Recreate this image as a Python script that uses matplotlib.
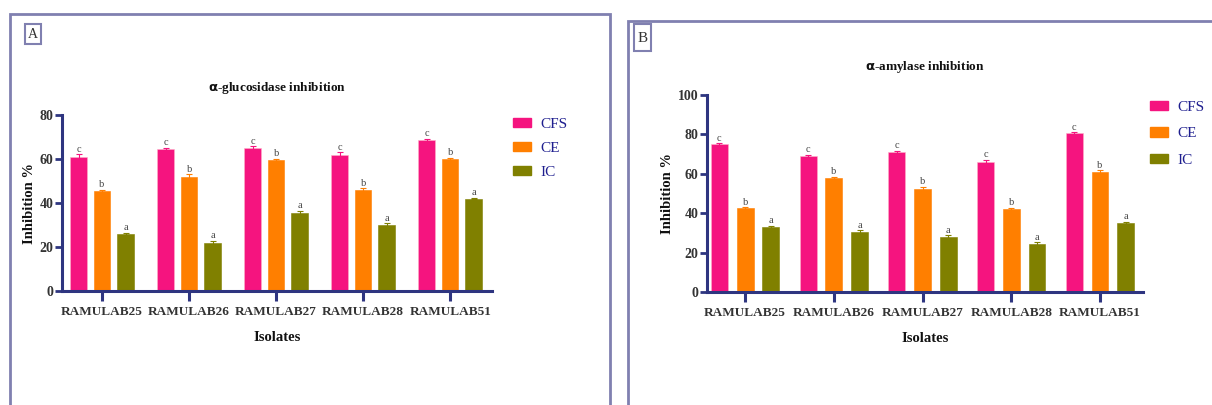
import matplotlib.pyplot as plt
from matplotlib.patches import Rectangle, Patch
import numpy as np

# Data
isolates = ['RAMULAB25', 'RAMULAB26', 'RAMULAB27', 'RAMULAB28', 'RAMULAB51']
series = ['CFS', 'CE', 'IC']

gluc_cfs = [61.0, 64.5, 65.0, 62.0, 68.5]
gluc_ce = [45.5, 52.0, 59.5, 46.0, 60.0]
gluc_ic = [26.0, 22.0, 35.5, 30.0, 42.0]
gluc_err_cfs = [1.2, 0.6, 0.8, 1.0, 0.6]
gluc_err_ce = [0.6, 1.0, 0.6, 0.6, 0.5]
gluc_err_ic = [0.5, 0.8, 0.8, 0.8, 0.4]

amyl_cfs = [75.0, 69.0, 71.0, 66.0, 80.5]
amyl_ce = [42.5, 58.0, 52.5, 42.0, 61.0]
amyl_ic = [33.0, 30.5, 28.0, 24.5, 35.0]
amyl_err_cfs = [0.5, 0.5, 0.8, 1.2, 0.6]
amyl_err_ce = [0.4, 0.6, 0.8, 0.8, 0.8]
amyl_err_ic = [0.6, 0.8, 0.8, 0.8, 0.6]

letters = ['c', 'b', 'a']

colors = ['#F5147F', '#FF7F00', '#808000']
axis_col = '#2E3580'
frame_col = '#8080B0'
legend_txt = '#1F1F8F'

plt.rcParams['font.family'] = ['Liberation Serif', 'DejaVu Serif']

fig = plt.figure(figsize=(12.12, 4.05), dpi=100)
W, H = 1212, 405


def px_rect(x0, y0, x1, y1):
    return [x0 / W, 1 - y1 / H, (x1 - x0) / W, (y1 - y0) / H]


# panel frames
fig.patches.append(Rectangle((10 / W, -0.1), 600 / W, 1 - 14 / H + 0.1, transform=fig.transFigure,
                             fill=False, edgecolor=frame_col, linewidth=2))
fig.patches.append(Rectangle((628 / W, -0.1), 620 / W, 1 - 21 / H + 0.1, transform=fig.transFigure,
                             fill=False, edgecolor=frame_col, linewidth=2))
# panel label boxes
fig.patches.append(Rectangle((25 / W, 1 - 44 / H), 16 / W, 20 / H, transform=fig.transFigure,
                             fill=False, edgecolor=frame_col, linewidth=1.5))
fig.text(33 / W, 1 - 34 / H, 'A', ha='center', va='center', fontsize=10, color='#333333')
fig.patches.append(Rectangle((634 / W, 1 - 51 / H), 17 / W, 27 / H, transform=fig.transFigure,
                             fill=False, edgecolor=frame_col, linewidth=1.5))
fig.text(642.5 / W, 1 - 38 / H, 'B', ha='center', va='center', fontsize=11, color='#333333')


def draw_panel(rect, vals, errs, ymax, title, xlim, offs, width, title_y, leg_anchor, leg_space):
    ax = fig.add_axes(rect)
    x = np.arange(len(isolates))
    for i, (v, e) in enumerate(zip(vals, errs)):
        ax.bar(x + offs[i], v, width, color=colors[i], edgecolor='#FFB0C8' if i == 0 else colors[i],
               linewidth=0.4, yerr=e, error_kw=dict(ecolor=colors[i], elinewidth=0.8, capsize=2.5, capthick=0.8),
               label=series[i], zorder=2)
        for xi, vi, ei in zip(x, v, e):
            ax.text(xi + offs[i], vi + ei + 0.3, letters[i], ha='center', va='bottom',
                    fontsize=7.5, color='#444444')
    ax.set_xlim(*xlim)
    ax.set_ylim(0, ymax)
    ax.set_yticks(np.arange(0, ymax + 1, 20))
    ax.set_xticks(x)
    ax.set_xticklabels(isolates, fontsize=9.5, fontweight='bold', color='#333333')
    for lab in ax.get_yticklabels():
        lab.set_fontsize(10)
        lab.set_fontweight('bold')
        lab.set_color('#333333')
    for s in ['top', 'right']:
        ax.spines[s].set_visible(False)
    for s in ['left', 'bottom']:
        ax.spines[s].set_color(axis_col)
        ax.spines[s].set_linewidth(2.2)
    ax.tick_params(axis='y', colors=axis_col, width=2, length=5, pad=1, labelcolor='#333333')
    ax.tick_params(axis='x', colors=axis_col, width=2.2, length=7, pad=4, labelcolor='#333333')
    ax.set_xlabel('Isolates', fontsize=10.5, fontweight='bold', labelpad=9, color='#111111')
    ax.set_ylabel('Inhibition %', fontsize=10.5, fontweight='bold', labelpad=3, color='#111111')
    ax.text(0.5, title_y, title, transform=ax.transAxes, ha='center', va='center',
            fontsize=9.5, fontweight='bold', color='#111111')
    handles = [Patch(facecolor=colors[i], edgecolor=colors[i]) for i in range(3)]
    leg = ax.legend(handles, series, loc='upper left', bbox_to_anchor=leg_anchor, frameon=False,
                    borderpad=0, borderaxespad=0, handlelength=1.2, handleheight=0.55,
                    labelspacing=leg_space, handletextpad=0.6, fontsize=11)
    for t in leg.get_texts():
        t.set_color(legend_txt)
    return ax


draw_panel(px_rect(62, 115, 492, 291), [gluc_cfs, gluc_ce, gluc_ic],
           [gluc_err_cfs, gluc_err_ce, gluc_err_ic], 80, r'$\mathbf{\alpha}$-glucosidase inhibition',
           (-0.46, 4.48), [-0.27, 0.0, 0.27], 0.19, 1.155, (1.049, 0.985), 0.72)

draw_panel(px_rect(707, 95, 1143, 292), [amyl_cfs, amyl_ce, amyl_ic],
           [amyl_err_cfs, amyl_err_ce, amyl_err_ic], 100, r'$\mathbf{\alpha}$-amylase inhibition',
           (-0.43, 4.485), [-0.29, 0.0, 0.29], 0.19, 1.14, (1.016, 0.97), 0.88)

fig.savefig('out.png', dpi=100)
